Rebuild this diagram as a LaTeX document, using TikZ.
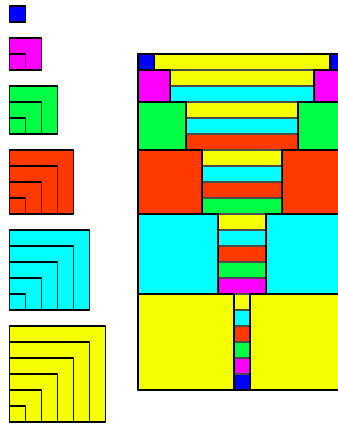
\documentclass[tikz,border=0pt]{standalone}
\usepackage{tikz}

% square colours, by side length
\definecolor{c1}{RGB}{0,0,255}
\definecolor{c2}{RGB}{255,0,255}
\definecolor{c3}{RGB}{0,255,68}
\definecolor{c4}{RGB}{255,58,0}
\definecolor{c5}{RGB}{0,255,255}
\definecolor{c6}{RGB}{244,255,0}

\begin{document}
\begin{tikzpicture}[
    x=0.4cm, y=-0.4cm,
    sq/.style={draw, line width=1.3pt, line join=round},
    strip/.style={draw=black!70, line width=0.8pt}
]

\clip (0,0) rectangle (21.125,26.5625);

% Left column: square of side k made of k nested squares
\foreach \k in {1,...,6} {
    \pgfmathsetmacro{\ytop}{0.375+\k*(\k-1)/2+\k-1}
    \fill[c\k] (0.594,\ytop) rectangle ++(\k,\k);
    \foreach \j in {1,...,\k}
        \draw[sq] (0.594,\ytop+\k) rectangle ++(\j,-\j);
}

% Right figure: row k = two squares of side k and k strips between
\foreach \k in {1,...,6} {
    \pgfmathsetmacro{\ytop}{3.375+\k*(\k-1)/2}
    \foreach \j in {1,...,\k} {
        \pgfmathtruncatemacro{\s}{7-\j}
        \draw[strip, fill=c\s] (8.625+\k,\ytop+\j-1) rectangle (21.625-\k,\ytop+\j);
    }
    \draw[sq, fill=c\k] (8.625,\ytop) rectangle ++(\k,\k);
    \draw[sq, fill=c\k] (21.625,\ytop) rectangle ++(-\k,\k);
}
\draw[sq] (8.625,3.375) rectangle (21.625,24.375);

\end{tikzpicture}
\end{document}
